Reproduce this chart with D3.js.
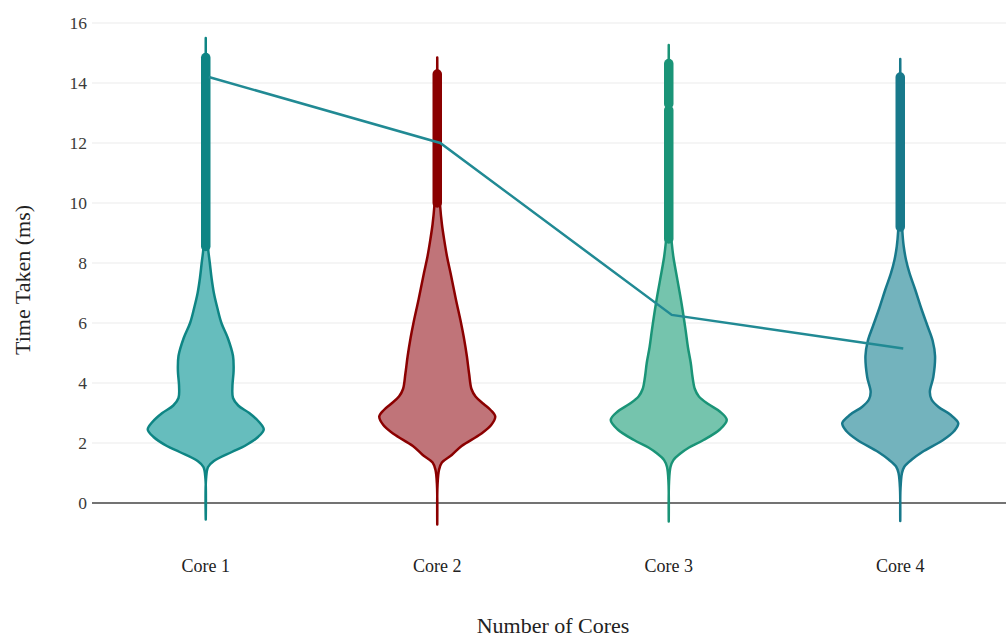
<!DOCTYPE html>
<html>
<head>
<meta charset="utf-8">
<script src="https://cdn.jsdelivr.net/npm/d3@7"></script>
<style>
  html, body { margin: 0; padding: 0; background: #fff; }
  svg { display: block; }
  text { font-family: "Liberation Serif", "Times New Roman", serif; }
</style>
</head>
<body>
<svg id="chart" width="1006" height="637"></svg>
<script>
// ---------- data ----------
const categories = ["Core 1", "Core 2", "Core 3", "Core 4"];
const yTicks = [0, 2, 4, 6, 8, 10, 12, 14, 16];

// violin density profiles: [time (ms), relative density]
const core1Density = [[-0.55,0],[0.8,0.005],[1.2,0.04],[1.4,0.14],[1.7,0.45],[1.9,0.67],[2.2,0.9],[2.45,1.0],[2.7,0.92],[3.0,0.75],[3.25,0.56],[3.5,0.47],[3.9,0.46],[4.4,0.48],[4.9,0.47],[5.5,0.38],[6.0,0.27],[6.5,0.2],[7.0,0.14],[7.5,0.1],[8.0,0.07],[8.5,0.04],[9.5,0.015],[11,0.005],[15.5,0]];
const core2Density = [[-0.72,0],[0.6,0.005],[1.1,0.03],[1.35,0.08],[1.6,0.25],[1.9,0.42],[2.3,0.75],[2.6,0.93],[2.88,1.0],[3.1,0.92],[3.3,0.8],[3.55,0.66],[3.8,0.59],[4.3,0.55],[4.9,0.51],[5.5,0.46],[6.0,0.41],[6.8,0.32],[7.66,0.23],[8.2,0.17],[8.77,0.12],[9.3,0.08],[9.9,0.05],[11,0.02],[13,0.005],[14.85,0]];
const core3Density = [[-0.62,0],[0.7,0.005],[1.2,0.03],[1.43,0.08],[1.65,0.2],[1.85,0.35],[2.1,0.6],[2.45,0.88],[2.77,1.0],[3.05,0.88],[3.3,0.68],[3.55,0.52],[3.8,0.45],[4.2,0.41],[4.66,0.38],[5.2,0.33],[5.77,0.29],[6.66,0.22],[7.43,0.15],[8.2,0.08],[8.7,0.05],[9.5,0.02],[11,0.008],[15.27,0]];
const core4Density = [[-0.6,0],[0.5,0.005],[1.0,0.03],[1.21,0.07],[1.45,0.2],[1.7,0.38],[2.1,0.74],[2.4,0.93],[2.66,1.0],[2.95,0.86],[3.2,0.66],[3.45,0.54],[3.7,0.51],[4.2,0.57],[4.9,0.6],[5.4,0.56],[5.9,0.47],[6.5,0.36],[7.1,0.26],[7.66,0.16],[8.1,0.1],[8.55,0.06],[9.1,0.035],[10.5,0.01],[12,0.004],[14.8,0]];

// outlier point runs (ms): [from, to]
const core1Outliers = [[8.55, 14.85]];
const core2Outliers = [[10.0, 14.3]];
const core3Outliers = [[8.8, 13.1], [13.3, 14.65]];
const core4Outliers = [[9.2, 14.2]];

// mean time per core (ms)
const meanTimes = [14.2, 12.0, 6.27, 5.15];

// ---------- styles ----------
const strokeColors = ["#0e8584", "#8b0000", "#1a9477", "#18798b"];
const fillColors   = ["#66bdbd", "#c07479", "#75c4ad", "#73b3bd"];
const lineColor = "#218a94";

// ---------- setup ----------
const svg = d3.select("#chart");
const W = 1006, H = 637;
const plotLeft = 90, plotRight = 1016, plotTop = 23, plotBottom = 503;

const x = d3.scaleBand().domain(categories).range([plotLeft, plotRight]).padding(0);
const y = d3.scaleLinear().domain([0, 16]).range([plotBottom, plotTop]);
const w = d3.scaleLinear().domain([0, 1]).range([0, 58]);

// gridlines
svg.append("g").selectAll("line").data(yTicks.filter(d => d !== 0)).join("line")
  .attr("x1", plotLeft + 2).attr("x2", W)
  .attr("y1", d => y(d)).attr("y2", d => y(d))
  .attr("stroke", "#ebebeb").attr("stroke-width", 1);

// y axis tick labels
svg.append("g").selectAll("text").data(yTicks).join("text")
  .attr("x", 87).attr("y", d => y(d)).attr("dy", "0.35em")
  .attr("text-anchor", "end").attr("font-size", 17.5).attr("fill", "#3a3a3a")
  .text(d => d);

// zero line
svg.append("line").attr("x1", plotLeft + 2).attr("x2", W)
  .attr("y1", y(0)).attr("y2", y(0))
  .attr("stroke", "#444").attr("stroke-width", 1.6);

// violins
const densities = [core1Density, core2Density, core3Density, core4Density];
const outliers = [core1Outliers, core2Outliers, core3Outliers, core4Outliers];

categories.forEach((cat, i) => {
  const cx = x(cat) + x.bandwidth() / 2;
  const area = d3.area()
    .y(d => y(d[0]))
    .x0(d => cx - w(d[1]))
    .x1(d => cx + w(d[1]))
    .curve(d3.curveCatmullRom.alpha(0.5));
  svg.append("path").datum(densities[i])
    .attr("d", area)
    .attr("fill", fillColors[i])
    .attr("stroke", strokeColors[i])
    .attr("stroke-width", 2.5)
    .attr("stroke-linejoin", "round");
  // points (densely stacked outliers)
  svg.append("g").selectAll("line").data(outliers[i]).join("line")
    .attr("x1", cx).attr("x2", cx)
    .attr("y1", d => y(d[0])).attr("y2", d => y(d[1]))
    .attr("stroke", strokeColors[i]).attr("stroke-width", 9.5)
    .attr("stroke-linecap", "round");
});

// mean line
const meanLine = d3.line()
  .x((d, i) => x(categories[i]) + x.bandwidth() / 2 + 3)
  .y(d => y(d));
svg.append("path").datum(meanTimes)
  .attr("d", meanLine)
  .attr("fill", "none")
  .attr("stroke", lineColor)
  .attr("stroke-width", 2.5);

// x tick labels
svg.append("g").selectAll("text").data(categories).join("text")
  .attr("x", d => x(d) + x.bandwidth() / 2).attr("y", 572)
  .attr("text-anchor", "middle").attr("font-size", 18).attr("fill", "#222")
  .text(d => d);

// axis titles
svg.append("text")
  .attr("x", (plotLeft + plotRight) / 2).attr("y", 633)
  .attr("text-anchor", "middle").attr("font-size", 22).attr("fill", "#222")
  .text("Number of Cores");
svg.append("text")
  .attr("transform", `translate(30, 280) rotate(-90)`)
  .attr("text-anchor", "middle").attr("font-size", 22).attr("fill", "#222")
  .text("Time Taken (ms)");
</script>
</body>
</html>
